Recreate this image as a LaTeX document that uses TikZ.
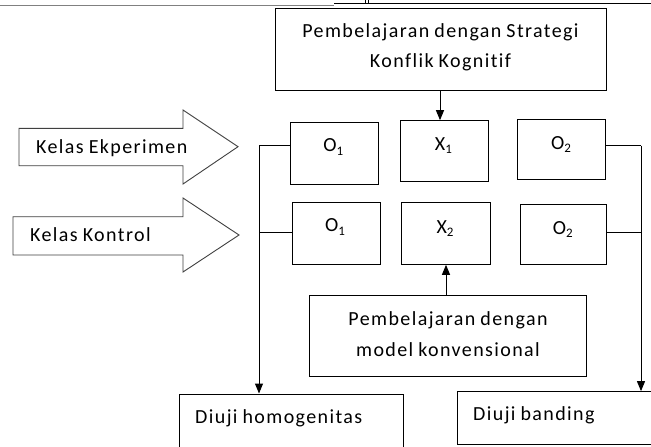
\documentclass[tikz,border=0pt]{standalone}
\usepackage{fontspec}
\newfontfamily\calfont[LetterSpace=7,WordSpace=0.85,Ligatures=NoCommon]{Carlito}
\usetikzlibrary{arrows.meta}
\newcommand\lowsub[1]{\raisebox{-0.18em}{\fontsize{13}{13}\selectfont #1}}
\tikzset{
  box/.style={draw=black, line width=1pt, inner sep=0pt},
  txt/.style={inner sep=0pt, anchor=base, font=\calfont\fontsize{20}{20}\selectfont},
  txtl/.style={txt, anchor=base west},
  conn/.style={draw=black, line width=1pt},
  arr/.style={conn, -{Triangle[length=10pt,width=8pt]}},
  blockarrow/.style={draw=black!75, line width=0.9pt, fill=white},
}
\begin{document}
\begin{tikzpicture}[x=1pt,y=-1pt]
\clip (0,0) rectangle (651,447);
\fill[white] (0,0) rectangle (651,447);
% artefact lines at top
\draw[gray, line width=1pt] (0,5) -- (334,5);
\draw[black, line width=1pt] (334,3.7) -- (651,3.7);
\draw[black, line width=1pt] (365,0) -- (365,3.7) (368.5,0) -- (368.5,3.7);
% boxes
\node[box, minimum width=331, minimum height=82.2] (top) at (440.5,49.6) {};
\node[box, minimum width=88, minimum height=62] (o1a) at (334.7,153.3) {};
\node[box, minimum width=88, minimum height=60.3] (x1) at (444,150.85) {};
\node[box, minimum width=87.7, minimum height=59.7] (o2a) at (561.2,149.2) {};
\node[box, minimum width=87.7, minimum height=61.6] (o1b) at (336.2,233.5) {};
\node[box, minimum width=89, minimum height=61.6] (x2) at (445.5,233.5) {};
\node[box, minimum width=86.7, minimum height=60.3] (o2b) at (563.4,234.2) {};
\node[box, minimum width=277.7, minimum height=81] (conv) at (447.9,335.5) {};
\node[box, minimum width=224, minimum height=70] (homog) at (291.3,429) {};
\node[box, minimum width=210, minimum height=53.3] (band) at (562.5,418.3) {};
% block arrows
\draw[blockarrow] (19,128.3) -- (183,128.3) -- (183,110) -- (238,146.7) -- (183,184) -- (183,165.7) -- (19,165.7) -- cycle;
\draw[blockarrow] (13,216.7) -- (183,216.7) -- (183,198) -- (239,235) -- (183,272) -- (183,255) -- (13,255) -- cycle;
% texts
\node[txt] (t1) at (440.5,37.5) {Pembelajaran dengan Strategi};
\node[txt] (t2) at (440.5,67.5) {Konflik Kognitif};
\node[txtl] (ke) at (36,153.3) {Kelas Ekperimen};
\node[txtl] (kk) at (30,241) {Kelas Kontrol};
\node[txt] (lo1a) at (333.3,151.5) {O\lowsub{1}};
\node[txt] (lx1) at (443.4,150) {X\lowsub{1}};
\node[txt] (lo2a) at (561,149) {O\lowsub{2}};
\node[txt] (lo1b) at (335,231.7) {O\lowsub{1}};
\node[txt] (lx2) at (445,233) {X\lowsub{2}};
\node[txt] (lo2b) at (562.7,234.3) {O\lowsub{2}};
\node[txt] (c1) at (448,325) {Pembelajaran dengan};
\node[txt] (c2) at (448,356) {model konvensional};
\node[txtl] (lh) at (195,423.3) {Diuji homogenitas};
\node[txtl] (lb) at (473,420) {Diuji banding};
% connectors
\coordinate (lt) at (259,145.7);
\coordinate (lk) at (259,232.7);
\coordinate (rt) at (641,145.7);
\coordinate (rk) at (641,232.7);
\draw[conn] (lt) -- (lt -| o1a.west);
\draw[conn] (lk) -- (lk -| o1b.west);
\draw[arr] (lt) -- (lt |- homog.north);
\draw[conn] (rt -| o2a.east) -- (rt);
\draw[conn] (rk -| o2b.east) -- (rk);
\draw[arr] (rt) -- (rt |- band.north);
\draw[arr] ([xshift=-0.5pt]top.south) -- ([xshift=-0.5pt]top.south |- x1.north);
\draw[arr] ([xshift=-1.9pt]conv.north) -- ([xshift=-1.9pt]conv.north |- x2.south);
\end{tikzpicture}
\end{document}
